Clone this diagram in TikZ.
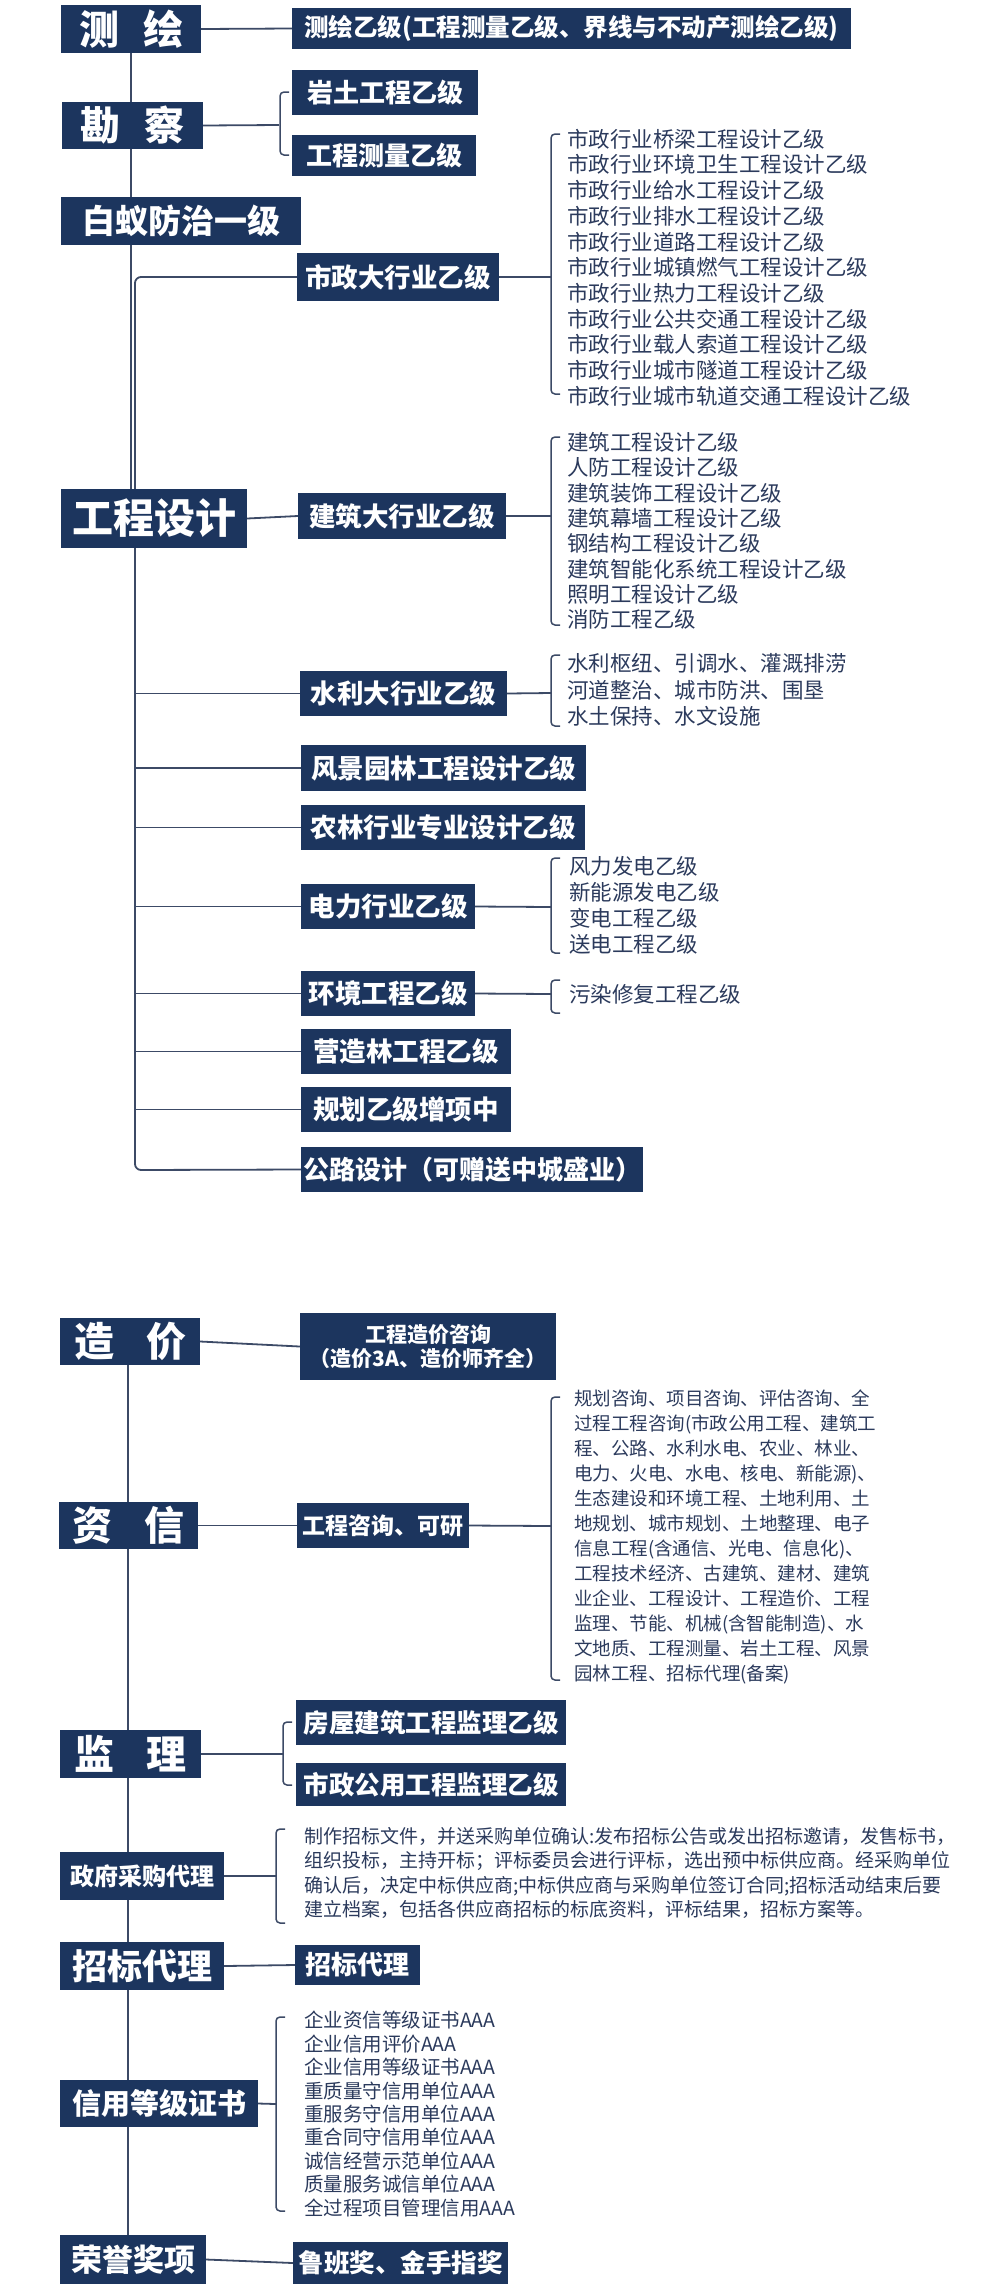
\documentclass[tikz,border=0pt]{standalone}
\usepackage{fontspec}
\setmainfont{Noto Sans CJK SC}
\usetikzlibrary{backgrounds}
\definecolor{navy}{HTML}{1C355E}
\definecolor{ink}{HTML}{2B3A5C}
\definecolor{lnc}{HTML}{3C4A66}
\tikzset{
  box/.style={fill=navy,text=white,inner sep=0pt,align=center},
  ln/.style={draw=lnc,line width=1.8pt},
  brk/.style={draw=lnc,line width=1.5pt,rounded corners=4pt},
  lst/.style={text=ink,inner sep=0pt,align=left,anchor=west}
}
\newcommand\bx[7]{\node[box,font={\bfseries\fontsize{#6}{#6}\selectfont},minimum width={(#4-#2)*1pt},minimum height={(#5-#3)*1pt}] (#1) at ({(#2+#4)/2},{(#3+#5)/2}) {#7};}
\newcommand\brkt[3]{\draw[brk] (#1+9,#2) -- (#1,#2) -- (#1,#3) -- (#1+9,#3);}
\begin{document}
\begin{tikzpicture}[x=1pt,y=-1pt]
\useasboundingbox (0,0) rectangle (1000,2284);
% upper boxes
\bx{cehui}{61}{5}{201}{53}{40}{测\hspace{0.6em}绘}
\bx{cehuiyi}{292}{8}{851}{49}{24.5}{测绘乙级(工程测量乙级、界线与不动产测绘乙级)}
\bx{kancha}{62}{102}{203}{149}{40}{勘\hspace{0.6em}察}
\bx{yantu}{292}{70}{478}{115}{26}{岩土工程乙级}
\bx{celiang}{292}{135}{476}{176}{26}{工程测量乙级}
\bx{baiyi}{61}{197}{301}{245}{33}{白蚁防治一级}
\bx{gcsj}{61}{489}{247}{548}{41}{工程设计}
\bx{shizheng}{297}{253}{499}{301}{26.5}{市政大行业乙级}
\bx{jianzhu}{298}{493}{506}{539}{26.5}{建筑大行业乙级}
\bx{shuili}{300}{671}{507}{716}{26.5}{水利大行业乙级}
\bx{fengjing}{301}{745}{586}{791}{26.5}{风景园林工程设计乙级}
\bx{nonglin}{301}{805}{585}{850}{26.5}{农林行业专业设计乙级}
\bx{dianli}{301}{884}{475}{929}{26.5}{电力行业乙级}
\bx{huanjing}{301}{971}{475}{1016}{26.5}{环境工程乙级}
\bx{yingzao}{301}{1029}{511}{1074}{26.5}{营造林工程乙级}
\bx{guihua}{301}{1087}{511}{1132}{26.5}{规划乙级增项中}
\bx{gonglu}{301}{1147}{643}{1192}{26}{公路设计（可赠送中城盛业）}
% upper lists
\node[lst,font=\fontsize{21.5}{25.7}\selectfont] (szl) at (567,267.5) {市政行业桥梁工程设计乙级\\市政行业环境卫生工程设计乙级\\市政行业给水工程设计乙级\\市政行业排水工程设计乙级\\市政行业道路工程设计乙级\\市政行业城镇燃气工程设计乙级\\市政行业热力工程设计乙级\\市政行业公共交通工程设计乙级\\市政行业载人索道工程设计乙级\\市政行业城市隧道工程设计乙级\\市政行业城市轨道交通工程设计乙级};
\node[lst,font=\fontsize{21.5}{25.3}\selectfont] (jzl) at (567,531) {建筑工程设计乙级\\人防工程设计乙级\\建筑装饰工程设计乙级\\建筑幕墙工程设计乙级\\钢结构工程设计乙级\\建筑智能化系统工程设计乙级\\照明工程设计乙级\\消防工程乙级};
\node[lst,font=\fontsize{21.5}{26.5}\selectfont] (sll) at (567,690) {水利枢纽、引调水、灌溉排涝\\河道整治、城市防洪、围垦\\水土保持、水文设施};
\node[lst,font=\fontsize{21.5}{26}\selectfont] (dll) at (569,905) {风力发电乙级\\新能源发电乙级\\变电工程乙级\\送电工程乙级};
\node[lst,font=\fontsize{21.5}{26}\selectfont] (hjl) at (569,994) {污染修复工程乙级};
% upper connectors
\begin{scope}[on background layer]
\draw[ln] (cehui.center) -- (cehui.center |- gcsj.center);
\draw[ln,rounded corners=6pt] (shizheng.west) -- (135,277) -- (135,1170) -- (gonglu.west);
\draw[ln] (cehui.east) -- (cehuiyi.west);
\draw[ln] (kancha.east) -- (279,125);
\draw[ln] (gcsj.east) -- (jianzhu.west);
\foreach \n in {shuili,fengjing,nonglin,dianli,huanjing,yingzao,guihua}{\draw[ln] (135,0 |- \n.west) -- (\n.west);}
\draw[ln] (shizheng.east) -- (551,277);
\draw[ln] (jianzhu.east) -- (551,516);
\draw[ln] (shuili.east) -- (551,693);
\draw[ln] (dianli.east) -- (551,907);
\draw[ln] (huanjing.east) -- (551,994);
\end{scope}
\brkt{280}{92}{155}
\brkt{551}{134}{394}
\brkt{551}{437}{625}
\brkt{551}{655}{726}
\brkt{551}{858}{953}
\brkt{551}{980}{1013}
% lower boxes
\bx{zaojia}{60}{1318}{200}{1365}{40}{造\hspace{0.8em}价}
\bx{zjzx}{300}{1313}{556}{1380}{21}{工程造价咨询\\[3pt]（造价3A、造价师齐全）}
\bx{zixin}{59}{1502}{198}{1549}{40}{资\hspace{0.8em}信}
\bx{gczx}{297}{1503}{469}{1548}{23}{工程咨询、可研}
\bx{jianli}{60}{1730}{201}{1778}{40}{监\hspace{0.8em}理}
\bx{fwjl}{296}{1700}{566}{1745}{25.5}{房屋建筑工程监理乙级}
\bx{szjl}{296}{1763}{566}{1806}{25.5}{市政公用工程监理乙级}
\bx{zfcg}{60}{1852}{224}{1900}{24}{政府采购代理}
\bx{zbdl}{60}{1942}{224}{1990}{35}{招标代理}
\bx{zbdl2}{295}{1945}{420}{1985}{26}{招标代理}
\bx{xydj}{60}{2080}{258}{2127}{29}{信用等级证书}
\bx{rongyu}{60}{2235}{206}{2284}{31}{荣誉奖项}
\bx{luban}{293}{2242}{508}{2284}{25.5}{鲁班奖、金手指奖}
% lower lists
\node[lst,font=\fontsize{18.5}{25}\selectfont] (zxl) at (574,1537) {规划咨询、项目咨询、评估咨询、全\\过程工程咨询(市政公用工程、建筑工\\程、公路、水利水电、农业、林业、\\电力、火电、水电、核电、新能源)、\\生态建设和环境工程、土地利用、土\\地规划、城市规划、土地整理、电子\\信息工程(含通信、光电、信息化)、\\工程技术经济、古建筑、建材、建筑\\业企业、工程设计、工程造价、工程\\监理、节能、机械(含智能制造)、水\\文地质、工程测量、岩土工程、风景\\园林工程、招标代理(备案)};
\node[lst,font=\fontsize{19}{24.5}\selectfont] (cgl) at (304,1873) {制作招标文件，并送采购单位确认:发布招标公告或发出招标邀请，发售标书，\\组织投标，主持开标；评标委员会进行评标，选出预中标供应商。经采购单位\\确认后，决定中标供应商;中标供应商与采购单位签订合同;招标活动结束后要\\建立档案，包括各供应商招标的标底资料，评标结果，招标方案等。};
\node[lst,font=\fontsize{19.5}{23.4}\selectfont] (xyl) at (304,2114) {企业资信等级证书AAA\\企业信用评价AAA\\企业信用等级证书AAA\\重质量守信用单位AAA\\重服务守信用单位AAA\\重合同守信用单位AAA\\诚信经营示范单位AAA\\质量服务诚信单位AAA\\全过程项目管理信用AAA};
\begin{scope}[on background layer]
\draw[ln] (128,1341) -- (128,2260);
\draw[ln] (zaojia.east) -- (zjzx.west);
\draw[ln] (zixin.east) -- (gczx.west);
\draw[ln] (gczx.east) -- (551,1526);
\draw[ln] (jianli.east) -- (283,1754);
\draw[ln] (zfcg.east) -- (276,1876);
\draw[ln] (zbdl.east) -- (zbdl2.west);
\draw[ln] (xydj.east) -- (276,2104);
\draw[ln] (rongyu.east) -- (luban.west);
\end{scope}
\brkt{551}{1397}{1680}
\brkt{283}{1722}{1785}
\brkt{276}{1829}{1923}
\brkt{276}{2017}{2211}
\end{tikzpicture}
\end{document}
